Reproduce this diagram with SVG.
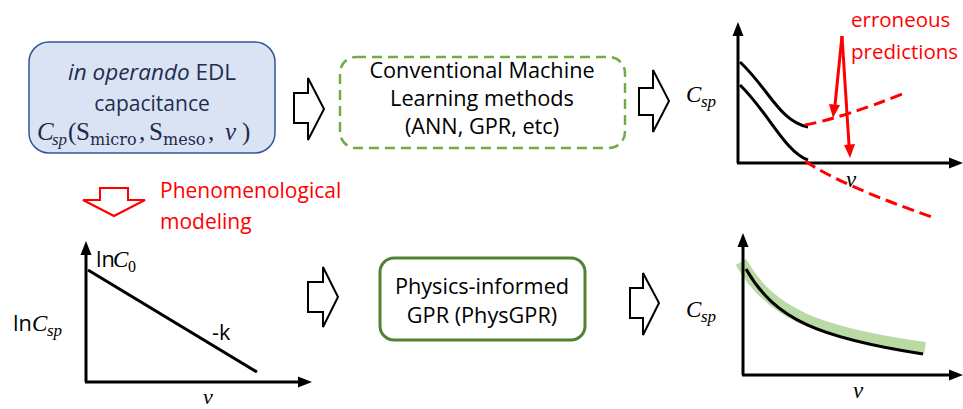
<svg xmlns="http://www.w3.org/2000/svg" width="963" height="409" viewBox="0 0 963 409">
<style>
.t{font-family:"Open Sans","Liberation Sans",sans-serif;font-size:21.7px;fill:#000}
.m{font-family:"Liberation Serif","DejaVu Serif",serif;font-style:italic;fill:#000}
.mu{font-family:"DejaVu Serif","Liberation Serif",serif;fill:#000}
.ms{font-family:"Liberation Serif","DejaVu Serif",serif;fill:#000}
.nv{fill:#1c2a4a}
.ax{stroke:#000;stroke-width:3;fill:none}
.blk{fill:#fff;stroke:#000;stroke-width:2;stroke-linejoin:miter}
.rd{stroke:#ff0000;stroke-width:3;fill:none;stroke-dasharray:12 6}
</style>
<rect width="963" height="409" fill="#fff"/>

<g id="node-edl">
<rect x="29" y="42" width="246" height="111" rx="20" fill="#dae3f3" stroke="#2f5597" stroke-width="1.5"/>
<text class="t" x="152" y="80" text-anchor="middle" style="fill:#1f2d50;font-size:22.5px"><tspan font-style="italic">in operando</tspan> EDL</text>
<text class="t" x="152" y="111" text-anchor="middle" style="fill:#1f2d50;font-size:21px">capacitance</text>
<text class="m nv" x="37" y="140" font-size="25">C</text>
<text class="m nv" x="52" y="145" font-size="17">sp</text>
<text class="ms nv" x="68" y="140" font-size="25">(</text>
<text class="ms nv" x="76" y="140" font-size="25">S</text>
<text class="mu nv" x="90" y="145" font-size="16">micro</text>
<text class="ms nv" x="139" y="140" font-size="25">,</text>
<text class="ms nv" x="149" y="140" font-size="25">S</text>
<text class="mu nv" x="163" y="145" font-size="16">meso</text>
<text class="ms nv" x="208" y="140" font-size="25">,</text>
<text class="m nv" x="225" y="140" font-size="25">ν</text>
<text class="ms nv" x="242" y="140" font-size="25">)</text>
</g>

<g id="node-conv">
<rect x="340" y="57" width="285" height="91" rx="16" fill="none" stroke="#70ad47" stroke-width="2.5" stroke-dasharray="10 6"/>
<text class="t" x="482" y="78" text-anchor="middle">Conventional Machine</text>
<text class="t" x="482" y="106" text-anchor="middle">Learning methods</text>
<text class="t" x="482" y="134" text-anchor="middle">(ANN, GPR, etc)</text>
</g>

<g id="node-phys">
<rect x="380" y="258" width="205" height="82" rx="14" fill="none" stroke="#548235" stroke-width="3"/>
<text class="t" x="482" y="294" text-anchor="middle">Physics-informed</text>
<text class="t" x="482" y="323" text-anchor="middle">GPR (PhysGPR)</text>
</g>

<g id="label-phen">
<text class="t" x="160" y="198" style="fill:#ff0000;font-size:21px">Phenomenological</text>
<text class="t" x="160" y="229" style="fill:#ff0000;font-size:21px">modeling</text>
</g>

<g id="chart-top">
<line class="ax" x1="738" y1="163" x2="738" y2="34"/>
<polygon points="738,22 732.5,36 743.5,36"/>
<line class="ax" x1="737" y1="163" x2="950" y2="163"/>
<polygon points="963,163 949,157.5 949,168.5"/>
<text class="m" x="686" y="102" font-size="23">C</text>
<text class="m" x="701" y="107" font-size="17">sp</text>
<text class="m" x="846" y="187" font-size="23">ν</text>
<path class="ax" d="M740,62 C768,88 780,122 808,127"/>
<path class="ax" d="M740,85 C768,112 785,152 808,160"/>
<path class="rd" d="M805,125 Q842,118 905,93"/>
<path class="rd" d="M805,161 Q842,186 935,218"/>
<line x1="842" y1="36" x2="835" y2="105" stroke="#ff0000" stroke-width="3"/>
<polygon points="833,118 829,104 840,105" fill="#ff0000"/>
<line x1="842" y1="36" x2="849" y2="145" stroke="#ff0000" stroke-width="3"/>
<polygon points="850,158 844,145 855,144" fill="#ff0000"/>
<text class="t" x="851" y="27" style="fill:#ff0000;font-size:20.5px">erroneous</text>
<text class="t" x="851" y="59" style="fill:#ff0000;font-size:20.5px">predictions</text>
</g>

<g id="chart-lnc">
<line class="ax" x1="86" y1="382" x2="86" y2="253"/>
<polygon points="86,241 80.5,255 91.5,255"/>
<line class="ax" x1="85" y1="382" x2="300" y2="382"/>
<polygon points="312,382 298,376.5 298,387.5"/>
<line class="ax" x1="88" y1="270" x2="257" y2="372"/>
<text class="t" x="96" y="267">ln</text>
<text class="m" x="113" y="267" font-size="23">C</text>
<text class="ms" x="128" y="272" font-size="16">0</text>
<text class="t" x="13" y="331">ln</text>
<text class="m" x="32" y="331" font-size="23">C</text>
<text class="m" x="47" y="336" font-size="17">sp</text>
<text class="t" x="212" y="340">-k</text>
<text class="m" x="203" y="404" font-size="22">ν</text>
</g>

<g id="chart-bottom">
<path d="M741,262 C770,314 818,333 925,348" fill="none" stroke="#a9d18e" stroke-width="12" opacity="0.8"/>
<line class="ax" x1="743" y1="375" x2="743" y2="245"/>
<polygon points="743,233 737.5,247 748.5,247"/>
<line class="ax" x1="742" y1="375" x2="950" y2="375"/>
<polygon points="963,375 949,369.5 949,380.5"/>
<path class="ax" d="M746,269 C775,320 820,338 923,354"/>
<text class="m" x="686" y="317" font-size="23">C</text>
<text class="m" x="701" y="322" font-size="17">sp</text>
<text class="m" x="853" y="398" font-size="23">ν</text>
</g>

<g id="connectors">
<polygon class="blk" points="294,93 308,93 308,78 324,109 308,140 308,123 294,123"/>
<polygon class="blk" points="639,88 653,88 653,70 669,101 653,132 653,115 639,115"/>
<polygon class="blk" points="308,282 323,282 323,267 338,297 323,327 323,312 308,312"/>
<polygon class="blk" points="630,288 643,288 643,273 659,303 643,335 643,318 630,318"/>
<polygon points="100,188 128,188 128,200 145,200 114,216 83,200 100,200" fill="#fff" stroke="#ff0000" stroke-width="2"/>
</g>
</svg>
